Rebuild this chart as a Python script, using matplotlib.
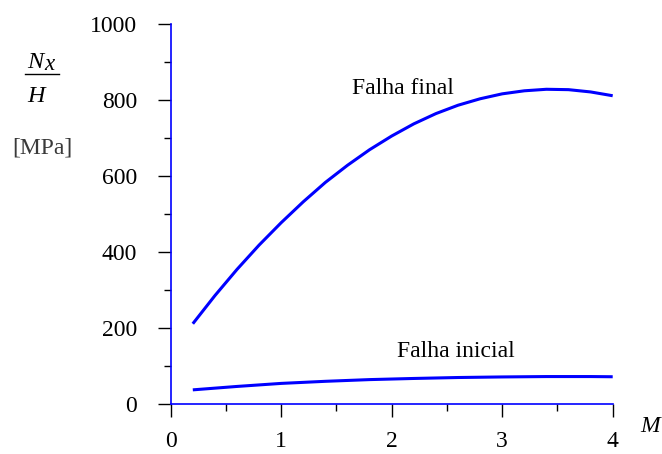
import matplotlib
matplotlib.use("Agg")
import matplotlib.pyplot as plt
from matplotlib.lines import Line2D
from matplotlib.ticker import MultipleLocator

plt.rcParams['font.family'] = ['Liberation Serif', 'DejaVu Serif']

# Data
m_final = [0.2, 0.4, 0.6, 0.8, 1.0, 1.2, 1.4, 1.6, 1.8, 2.0, 2.2, 2.4, 2.6, 2.8, 3.0, 3.2, 3.4, 3.6, 3.8, 4.0]
falha_final = [212, 286, 355, 419, 478, 533, 584, 629, 670, 706, 738, 765, 787, 804, 817, 825, 829, 828, 822, 812]
m_inicial = [0.2, 0.6, 1.0, 1.4, 1.8, 2.2, 2.6, 3.0, 3.4, 3.8, 4.0]
falha_inicial = [38, 47, 55, 60.5, 65, 68, 70.5, 72, 73, 73, 72.5]
x_ticks = [0, 1, 2, 3, 4]
y_ticks = [0, 200, 400, 600, 800, 1000]

fig = plt.figure(figsize=(6.62, 4.54), dpi=100)
ax = fig.add_axes([170.7/662, 1-404.3/454, (612.7-170.7)/662, (404.3-24.3)/454])

blue = '#0000ff'
ax.plot(m_final, falha_final, color=blue, lw=2.2, solid_capstyle='butt', solid_joinstyle='round')
ax.plot(m_inicial, falha_inicial, color=blue, lw=2.2, solid_capstyle='butt', solid_joinstyle='round')

ax.set_xlim(0, 4)
ax.set_ylim(0, 1000)
ax.set_xticks(x_ticks)
ax.set_yticks(y_ticks)
ax.xaxis.set_minor_locator(MultipleLocator(0.5))
ax.yaxis.set_minor_locator(MultipleLocator(100))

for s in ['top', 'right']:
    ax.spines[s].set_visible(False)
for s in ['left', 'bottom']:
    ax.spines[s].set_color(blue)
    ax.spines[s].set_linewidth(1.2)

ax.tick_params(which='major', direction='out', length=9.5, width=1.0, color='black',
               labelsize=17, pad=10)
ax.tick_params(which='minor', direction='out', length=5, width=1.0, color='black')
ax.tick_params(axis='y', which='major', pad=14.5)

ax.text(1.641, 817, 'Falha final', fontsize=17, ha='left', va='baseline')
ax.text(2.045, 125, 'Falha inicial', fontsize=17, ha='left', va='baseline')

# y label: N_x / H  [MPa]
fig.text(35/662, 1-67.5/454, 'N', fontsize=17.5, style='italic', ha='center', va='baseline')
fig.text(49/662, 1-70.5/454, 'x', fontsize=16.5, style='italic', ha='center', va='baseline')
fig.text(36.5/662, 1-101.5/454, 'H', fontsize=17.5, style='italic', ha='center', va='baseline')
fig.add_artist(Line2D([25/662, 59/662], [1-74/454, 1-74/454], color='black', lw=1.0,
                      transform=fig.transFigure))
fig.text(42/662, 1-148/454, '[MPa]', fontsize=17, ha='center', va='center', color='#3a3a3a')
fig.text(650/662, 1-427/454, 'M', fontsize=17, style='italic', ha='center', va='center')

fig.savefig('out.png', dpi=100)
